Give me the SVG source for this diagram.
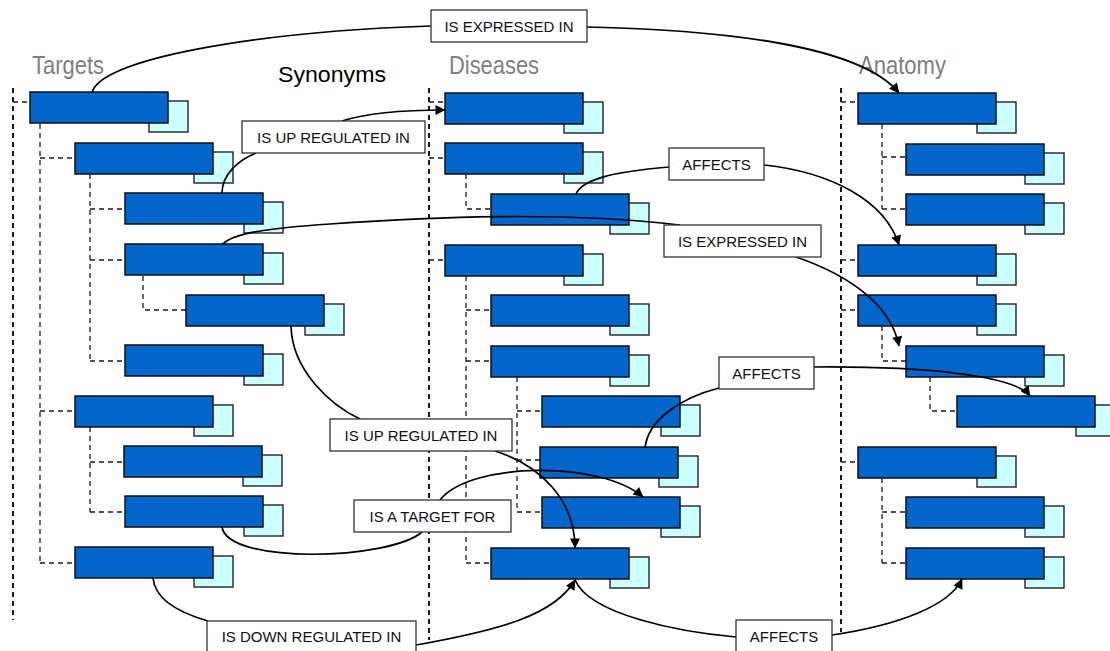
<svg xmlns="http://www.w3.org/2000/svg" width="1110" height="651" viewBox="0 0 1110 651">
<defs>
<style>
.hd{font-family:"Liberation Sans",Arial,sans-serif;font-size:25px;fill:#808080}
.syn{font-family:"Liberation Sans",Arial,sans-serif;font-size:22px;fill:#000}
.col{stroke:#000;stroke-width:1.8;stroke-dasharray:5,4;fill:none}
.tr{stroke:#1a1a1a;stroke-width:1.3;stroke-dasharray:5,4;fill:none}
.c{fill:#CCFFFF;stroke:#222;stroke-width:1.4}
.b{fill:#0066CC;stroke:#111;stroke-width:1.5}
.cn{fill:none;stroke:#000;stroke-width:1.7}
.ar{marker-end:url(#arr)}
.lb rect{fill:#fff;stroke:#333;stroke-width:1.3}
.lb text{font-family:"Liberation Sans",Arial,sans-serif;font-size:15px;fill:#111;text-anchor:middle}
</style>
<marker id="arr" viewBox="0 0 10 10" refX="9.5" refY="5" markerWidth="11" markerHeight="10" orient="auto" markerUnits="userSpaceOnUse"><path d="M0,0 L10,5 L0,10 z" fill="#000"/></marker>
<g id="box"><rect class="c" x="119" y="9" width="39" height="31"/><rect class="b" x="0" y="0" width="138" height="31"/></g>
</defs>
<g id="headers">
<text class="hd" x="32" y="74" textLength="72" lengthAdjust="spacingAndGlyphs">Targets</text>
<text class="syn" x="278" y="82" textLength="108" lengthAdjust="spacingAndGlyphs">Synonyms</text>
<text class="hd" x="449" y="74" textLength="90" lengthAdjust="spacingAndGlyphs">Diseases</text>
<text class="hd" x="859" y="74" textLength="87" lengthAdjust="spacingAndGlyphs">Anatomy</text>
</g>
<g id="tree-lines">
<path class="col" d="M13,88 V620 M429,88 V640 M841,88 V632"/>
<path class="tr" d="M13,102 H30 M40,124 V563 M40,158 H75 M40,411 H75 M40,563 H75 M90,174 V361 M90,209 H125 M90,260 H125 M90,361 H125 M143,276 V310 H186 M90,427 V512 M90,462 H125 M90,512 H125"/>
<path class="tr" d="M429,102 H445 M429,158 H445 M429,260 H445 M466,174 V209 H491 M466,276 V563 M466,310 H491 M466,361 H491 M466,563 H491 M517,377 V512 M517,411 H541 M517,460 H541 M517,512 H541"/>
<path class="tr" d="M841,102 H858 M841,260 H858 M841,310 H858 M841,462 H858 M882,124 V209 M882,157 H906 M882,209 H906 M882,326 V361 H906 M930,377 V411 H957 M882,478 V563 M882,512 H906 M882,563 H906"/>
</g>
<g id="targets">
<use id="T1" href="#box" x="30" y="92"/>
<use id="T2" href="#box" x="75" y="143"/>
<use id="T3" href="#box" x="125" y="193"/>
<use id="T4" href="#box" x="125" y="244"/>
<use id="T5" href="#box" x="186" y="295"/>
<use id="T6" href="#box" x="125" y="345"/>
<use id="T7" href="#box" x="75" y="396"/>
<use id="T8" href="#box" x="124" y="446"/>
<use id="T9" href="#box" x="125" y="496"/>
<use id="T10" href="#box" x="75" y="547"/>
</g>
<g id="diseases">
<use id="D1" href="#box" x="445" y="93"/>
<use id="D2" href="#box" x="445" y="143"/>
<use id="D3" href="#box" x="491" y="194"/>
<use id="D4" href="#box" x="445" y="245"/>
<use id="D5" href="#box" x="491" y="295"/>
<use id="D6" href="#box" x="491" y="346"/>
<use id="D7" href="#box" x="542" y="396"/>
<use id="D8" href="#box" x="540" y="447"/>
<use id="D9" href="#box" x="542" y="497"/>
<use id="D10" href="#box" x="491" y="548"/>
</g>
<g id="anatomy">
<use id="A1" href="#box" x="858" y="93"/>
<use id="A2" href="#box" x="906" y="144"/>
<use id="A3" href="#box" x="906" y="194"/>
<use id="A4" href="#box" x="858" y="245"/>
<use id="A5" href="#box" x="858" y="295"/>
<use id="A6" href="#box" x="906" y="346"/>
<use id="A7" href="#box" x="957" y="396"/>
<use id="A8" href="#box" x="858" y="447"/>
<use id="A9" href="#box" x="906" y="497"/>
<use id="A10" href="#box" x="906" y="548"/>
</g>
<g id="connectors">
<path class="cn" d="M92,93 C98,60 250,32 431,26"/>
<path class="cn ar" d="M587,27 C720,30 860,45 899,93"/>
<path class="cn" d="M222,193 C222,175 238,160 256,153"/>
<path class="cn ar" d="M342,121 C370,112 410,110 445,110"/>
<path class="cn" d="M576,194 C582,180 610,172 669,167"/>
<path class="cn ar" d="M764,165 C830,172 885,200 899,245"/>
<path class="cn" d="M222,245 C232,233 270,228 330,224 C430,217 560,211 680,225"/>
<path class="cn ar" d="M796,257 C840,272 890,300 899,346"/>
<path class="cn" d="M645,448 C648,420 680,398 719,388"/>
<path class="cn ar" d="M814,367 C920,366 1015,375 1030,396"/>
<path class="cn" d="M291,326 C292,370 330,405 360,419"/>
<path class="cn ar" d="M495,451 C540,465 575,500 575,548"/>
<path class="cn" d="M222,527 C228,565 390,560 422,532"/>
<path class="cn ar" d="M440,500 C470,462 600,460 643,497"/>
<path class="cn" d="M153,578 C155,600 180,613 208,621"/>
<path class="cn ar" d="M416,645 C500,630 555,615 575,580"/>
<path class="cn" d="M575,580 C590,615 680,632 736,637"/>
<path class="cn ar" d="M832,635 C900,625 950,605 962,579"/>
</g>
<g id="labels" class="lb">
<g id="L1"><rect x="431" y="10" width="156" height="32"/><text x="509" y="32">IS EXPRESSED IN</text></g>
<g id="L2"><rect x="242" y="121" width="183" height="32"/><text x="333.5" y="143">IS UP REGULATED IN</text></g>
<g id="L3"><rect x="669" y="148" width="95" height="32"/><text x="716.5" y="170">AFFECTS</text></g>
<g id="L4"><rect x="664" y="225" width="157" height="32"/><text x="742.5" y="247">IS EXPRESSED IN</text></g>
<g id="L5"><rect x="719" y="357" width="95" height="32"/><text x="766.5" y="379">AFFECTS</text></g>
<g id="L6"><rect x="330" y="419" width="182" height="32"/><text x="421" y="441">IS UP REGULATED IN</text></g>
<g id="L7"><rect x="354" y="500" width="157" height="32"/><text x="432.5" y="522">IS A TARGET FOR</text></g>
<g id="L8"><rect x="207" y="621" width="209" height="32"/><text x="311.5" y="642">IS DOWN REGULATED IN</text></g>
<g id="L9"><rect x="736" y="620" width="96" height="32"/><text x="784" y="642">AFFECTS</text></g>
</g>
</svg>
